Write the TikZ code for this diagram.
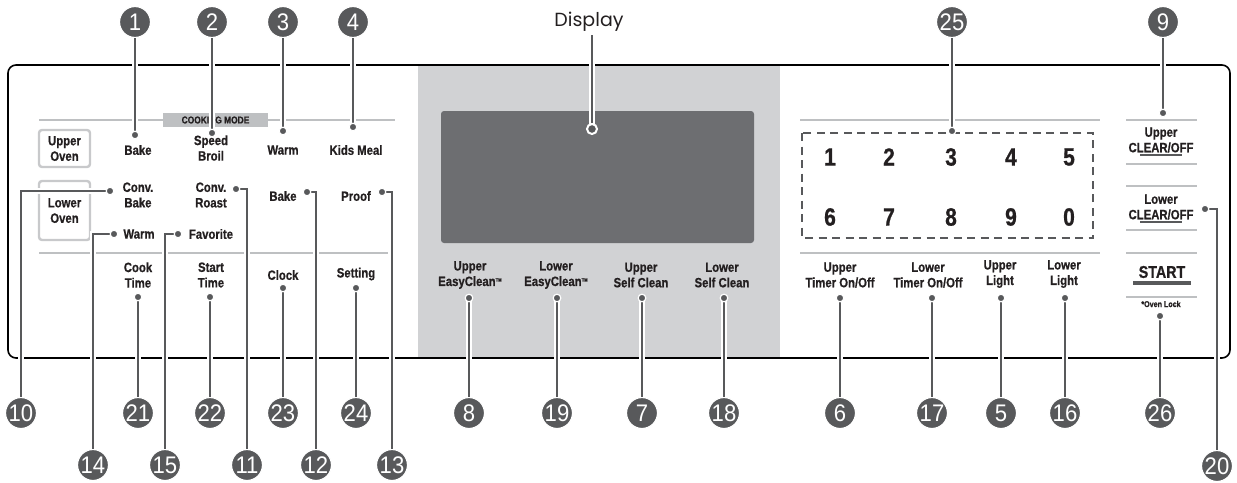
\documentclass[tikz,border=0pt]{standalone}
\usepackage{fontspec}
\setmainfont{Liberation Sans}
\newfontfamily\keyfont{Liberation Sans}[FakeStretch=0.84, BoldFeatures={FakeBold=0.7}]
\newfontfamily\numfont{Liberation Sans}[FakeStretch=0.92]
\newfontfamily\dispfont{Poppins}
\usepackage{tikz}
\definecolor{leadgray}{RGB}{88,89,91}
\definecolor{rulegray}{RGB}{190,192,194}
\definecolor{panelgray}{RGB}{209,210,212}
\definecolor{screengray}{RGB}{109,110,113}
\definecolor{txt}{RGB}{35,31,32}
\definecolor{boxline}{RGB}{200,201,203}
\newcommand{\tmark}{\raisebox{0.6ex}{\fontsize{5}{5}\selectfont TM}}

\begin{document}
\begin{tikzpicture}[x=1pt, y=-1pt,
  lbl/.style={font=\keyfont\bfseries\fontsize{13.5}{15.5}\selectfont, align=center, text=txt, inner sep=0pt},
  num/.style={circle, fill=leadgray, draw=white, line width=1.2pt, minimum size=31pt, inner sep=0pt, text=white, font=\numfont\fontsize{24}{24}\selectfont},
  lead/.style={draw=leadgray, line width=2.6pt, preaction={draw=white, line width=6.5pt}},
  rulel/.style={draw=rulegray, line width=1.8pt},
  ovenbox/.style={draw=boxline, line width=2.4pt, rounded corners=3pt},
  keypad/.style={font=\keyfont\bfseries\fontsize{25}{25}\selectfont, text=txt},
  pin/.style={fill=leadgray, draw=white, line width=1.2pt}
]
  \useasboundingbox (0,0) rectangle (1237,482);
  \fill[panelgray] (418,65) rectangle (780,358);
  \draw[black, line width=1.6pt, rounded corners=8pt] (8,65) rectangle (1230,358);
  \fill[screengray, rounded corners=3pt] (441,111) rectangle (754,243);

  \draw[rulel] (39,120) -- (395,120);
  \draw[rulel] (39,253) -- (388,253);
  \draw[rulel] (800,120) -- (1100,120);
  \draw[rulel] (800,253) -- (1100,253);
  \foreach \y in {120,164,186,230,253,297}
    \draw[rulel] (1126,\y) -- (1197,\y);

  \node[fill=rulegray, minimum width=105pt, minimum height=14pt, inner sep=0pt, text=txt,
        font=\keyfont\bfseries\fontsize{10}{10}\selectfont] (mode) at (215.5,120) {COOKING MODE};
  \node[lbl, ovenbox, minimum width=51pt, minimum height=37pt] (upov) at (64.5,148.5) {Upper\\Oven};
  \node[lbl, ovenbox, minimum width=51pt, minimum height=59pt] (loov) at (64.5,210.5) {Lower\\Oven};

  \node[lbl] (bake) at (138,150) {Bake};
  \node[lbl] (broil) at (211,148) {Speed\\Broil};
  \node[lbl] (warm) at (283,150) {Warm};
  \node[lbl] (kids) at (356,150) {Kids Meal};
  \node[lbl] (cbake) at (138,195) {Conv.\\Bake};
  \node[lbl] (croast) at (211,195) {Conv.\\Roast};
  \node[lbl] (lbake) at (283,196) {Bake};
  \node[lbl] (proof) at (356,196) {Proof};
  \node[lbl] (lwarm) at (139,234) {Warm};
  \node[lbl] (fav) at (211,234) {Favorite};
  \node[lbl] (cook) at (138,275) {Cook\\Time};
  \node[lbl] (stime) at (211,275) {Start\\Time};
  \node[lbl] (clock) at (283,275) {Clock};
  \node[lbl] (setting) at (356,274) {Setting};
  \node[lbl] (uez) at (470,275) {Upper\\EasyClean\tmark};
  \node[lbl] (lez) at (556,275) {Lower\\EasyClean\tmark};
  \node[lbl] (usc) at (641,275) {Upper\\Self Clean};
  \node[lbl] (lsc) at (722,275) {Lower\\Self Clean};
  \node[lbl] (utim) at (840,275) {Upper\\Timer On/Off};
  \node[lbl] (ltim) at (928,275) {Lower\\Timer On/Off};
  \node[lbl] (ulig) at (1000,274) {Upper\\Light};
  \node[lbl] (llig) at (1064,274) {Lower\\Light};
  \node[lbl] (uclr) at (1161,140) {Upper\\CLEAR/OFF};
  \node[lbl] (lclr) at (1161,207) {Lower\\CLEAR/OFF};
  \node[lbl, font=\keyfont\bfseries\fontsize{17}{17}\selectfont] (startk) at (1162,272) {START};
  \node[lbl, font=\keyfont\bfseries\fontsize{8.5}{8.5}\selectfont] (lock) at (1161,304) {*Oven Lock};
  \draw[leadgray, line width=1.5pt] (1140,155) -- (1182,155);
  \draw[leadgray, line width=1.5pt] (1140,222) -- (1182,222);
  \draw[leadgray, line width=3.5pt] (1133,283) -- (1191,283);

  \draw[leadgray, line width=2.4pt, dash pattern=on 8pt off 5.5pt] (802,133) rectangle (1093,238);
  \foreach \k/\x/\y in {1/830/157, 2/889/157, 3/951/157, 4/1011/157, 5/1069/157,
                        6/830/217, 7/889/217, 8/951/217, 9/1011/217, 0/1069/217}
    \node[keypad] (k\k) at (\x,\y) {\k};

  \node[font=\dispfont\fontsize{19}{19}\selectfont, text=txt] (disp) at (589,22) {Display};
  \coordinate (pd) at (592,129);
  \draw[lead] (disp.south -| pd) -- (pd);
  \filldraw[fill=leadgray, draw=white, line width=2pt] (pd) circle (5pt);

  \foreach \i/\x/\y in {1/135/22, 2/212/22, 3/283/22, 4/353/22, 25/952/22, 9/1163/22,
      10/21/413, 21/138/413, 22/210/413, 23/283/413, 24/356/413,
      8/469/413, 19/557/413, 7/642/413, 18/724/413,
      6/840/413, 17/932/413, 5/1001/413, 16/1065/413, 26/1160/413,
      14/93/465, 15/165/465, 11/247/465, 12/316/465, 13/392/465, 20/1217/466}
    \node[num] (n\i) at (\x,\y) {\i};

  \foreach \i/\x/\y in {1/135/135, 2/212/133, 3/283/131, 4/353/127, 9/1163/113, 25/952/131,
      10/110/191, 11/236/189, 12/307/192, 13/382/192, 14/114/234, 15/178/234, 20/1205/209,
      21/138/297, 22/210/297, 23/283/288, 24/356/288,
      8/469/298, 19/557/298, 7/642/298, 18/724/298,
      6/840/298, 17/932/298, 5/1001/298, 16/1065/298, 26/1160/316}
    \coordinate (p\i) at (\x,\y);

  \foreach \i in {1,2,3,4,9,25,21,22,23,24,8,19,7,18,6,17,5,16,26}
    \draw[lead] (n\i) -- (p\i);
  \foreach \i in {10,11,12,13,14,15,20}
    \draw[lead] (p\i) -| (n\i);
  \foreach \i in {1,...,26}
    \filldraw[pin] (p\i) circle (3.8pt);
\end{tikzpicture}
\end{document}
